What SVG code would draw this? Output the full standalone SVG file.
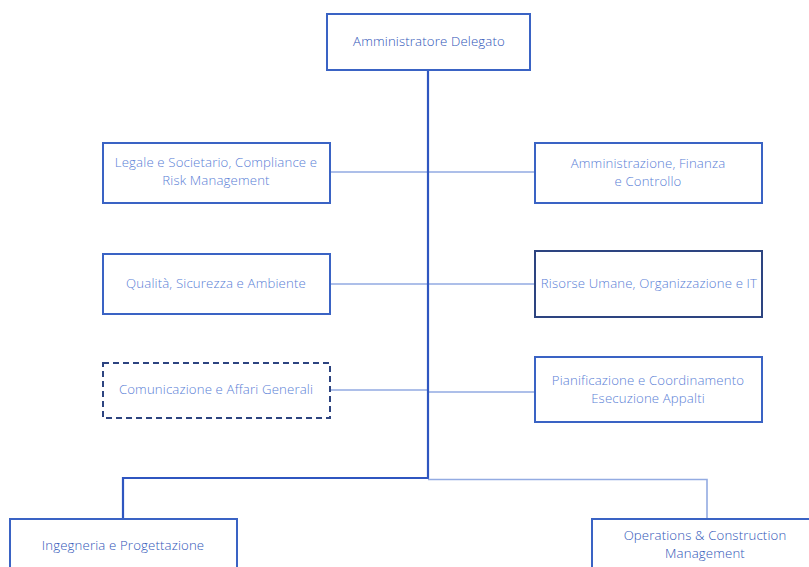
<svg xmlns="http://www.w3.org/2000/svg" width="809" height="567" viewBox="0 0 809 567">
<style>
.box{fill:#fff;stroke:#3a63c4;stroke-width:2}
.dark{fill:#fff;stroke:#2d4480;stroke-width:2}
.dash{fill:#fff;stroke:#2d4480;stroke-width:2;stroke-dasharray:6 4}
.t{font-family:"Open Sans","Liberation Sans",sans-serif;font-size:13.2px;letter-spacing:0.15px;fill:#5a80d6;text-anchor:middle;font-weight:300}
.td{fill:#2f56b8}
.trunk{stroke:#2f56c0;stroke-width:2.2;fill:none}
.br{stroke:#93abe2;stroke-width:1.6;fill:none}
</style>
<rect width="809" height="567" fill="#fff"/>
<g id="connectors">
<path class="br" d="M330 172H535M330 284H537M330 390H428M428 392H535"/>
<path class="trunk" d="M428 70V478H123V519"/>
<path class="br" d="M428 479.5H707V519"/>
</g>
<g id="n-ad"><rect class="box" x="327" y="14" width="203" height="56"/><text class="t td" x="429" y="46" font-size="14">Amministratore Delegato</text></g>
<g id="n-legale"><rect class="box" x="103" y="143" width="227" height="60"/><text class="t" x="216" y="167">Legale e Societario, Compliance e</text><text class="t" x="216" y="185">Risk Management</text></g>
<g id="n-afc"><rect class="box" x="535" y="143" width="227" height="60"/><text class="t" x="648" y="168">Amministrazione, Finanza</text><text class="t" x="648" y="186">e Controllo</text></g>
<g id="n-qsa"><rect class="box" x="103" y="254" width="227" height="60"/><text class="t" x="216" y="288">Qualità, Sicurezza e Ambiente</text></g>
<g id="n-ru"><rect class="dark" x="535" y="251" width="227" height="66"/><text class="t" x="649" y="288">Risorse Umane, Organizzazione e IT</text></g>
<g id="n-com"><rect class="dash" x="103" y="363" width="227" height="55"/><text class="t" x="216" y="394">Comunicazione e Affari Generali</text></g>
<g id="n-pian"><rect class="box" x="535" y="357" width="227" height="65"/><text class="t" x="648" y="385">Pianificazione e Coordinamento</text><text class="t" x="648" y="403">Esecuzione Appalti</text></g>
<g id="n-ing"><rect class="box" x="10" y="519" width="227" height="60"/><text class="t td" x="123" y="550">Ingegneria e Progettazione</text></g>
<g id="n-ocm"><rect class="box" x="592" y="519" width="227" height="60"/><text class="t td" x="705" y="540">Operations &amp; Construction</text><text class="t td" x="705" y="558">Management</text></g>
</svg>
